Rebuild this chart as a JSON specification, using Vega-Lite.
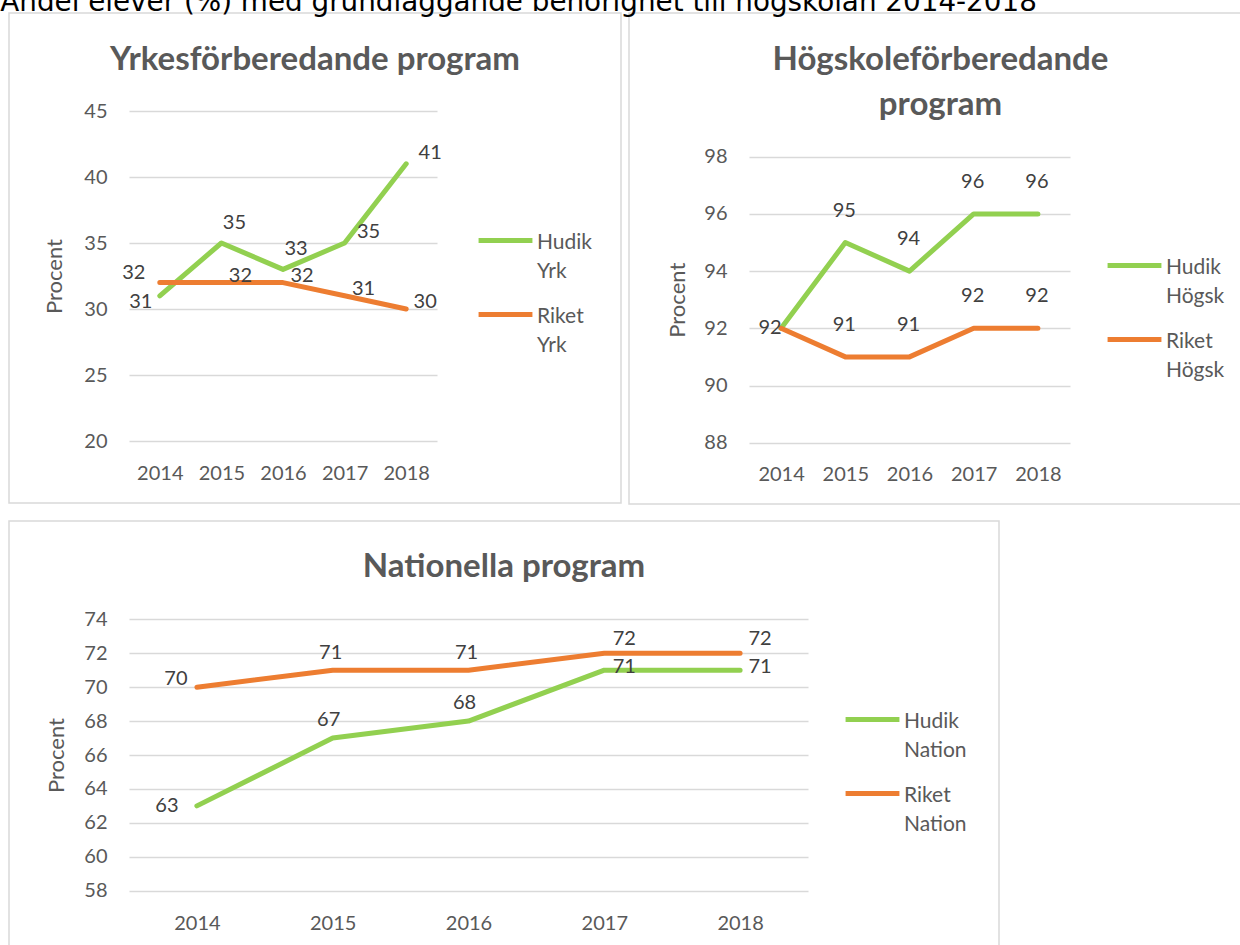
{
  "$schema": "https://vega.github.io/schema/vega-lite/v6.json",
  "background": "white",
  "padding": {"top": -11, "left": 0, "right": 0, "bottom": 0},
  "title": {"text": "Andel elever (%) med grundläggande behörighet till högskolan 2014-2018", "anchor": "start", "frame": "bounds", "font": "DejaVu Sans", "fontSize": 27.8, "fontWeight": "normal", "color": "#000000", "offset": -33, "dx": -8, "baseline": "bottom"},
  "config": {
    "font": "Lato",
    "view": {"stroke": "#d9d9d9", "strokeWidth": 1.5},
    "axis": {"domain": false, "ticks": false, "tickSize": 0, "labelFont": "Lato", "labelFontSize": 20, "labelColor": "#595959", "titleFont": "Lato", "titleFontSize": 22, "titleFontWeight": "normal", "titleColor": "#595959", "gridColor": "#d9d9d9", "gridWidth": 1.5, "labelPadding": 0},
    "legend": {"orient": "none", "title": null, "symbolType": "stroke", "symbolSize": 2900, "symbolStrokeWidth": 5, "labelFont": "Lato", "labelFontSize": 21, "labelColor": "#595959", "labelOffset": 2, "labelBaseline": "alphabetic", "rowPadding": 3, "labelLimit": 300, "padding": 0},
    "style": {"guide-label": {"lineHeight": 29}},
    "title": {"font": "Lato", "fontSize": 33, "fontWeight": "bold", "color": "#595959", "anchor": "middle", "frame": "group", "baseline": "bottom", "lineHeight": 45}
  },
  "resolve": {"scale": {"color": "independent"}, "legend": {"color": "independent"}},
  "spacing": 15,
  "vconcat": [
    {
      "spacing": 6,
      "resolve": {"scale": {"color": "independent"}, "legend": {"color": "independent"}},
      "hconcat": [
        {
          "width": 612, "height": 490,
          "title": {"text": "Yrkesförberedande program", "offset": -64},
          "data": {"values": [
            {"year": 2014, "series": "Hudik Yrk", "value": 31},
            {"year": 2015, "series": "Hudik Yrk", "value": 35},
            {"year": 2016, "series": "Hudik Yrk", "value": 33},
            {"year": 2017, "series": "Hudik Yrk", "value": 35},
            {"year": 2018, "series": "Hudik Yrk", "value": 41},
            {"year": 2014, "series": "Riket Yrk", "value": 32},
            {"year": 2015, "series": "Riket Yrk", "value": 32},
            {"year": 2016, "series": "Riket Yrk", "value": 32},
            {"year": 2017, "series": "Riket Yrk", "value": 31},
            {"year": 2018, "series": "Riket Yrk", "value": 30}
          ]},
          "encoding": {
            "x": {"field": "year", "type": "ordinal", "scale": {"type": "point", "range": [120, 428], "padding": 0.5}, "axis": {"title": null, "offset": -40, "labelAngle": 0, "grid": false}},
            "y": {"field": "value", "type": "quantitative", "scale": {"domain": [20, 45], "range": [428, 98], "nice": false, "zero": false}, "axis": {"values": [20, 25, 30, 35, 40, 45], "title": "Procent", "titlePadding": 17, "offset": -98, "grid": true}}
          },
          "layer": [
            {"mark": {"type": "line", "strokeWidth": 5, "strokeCap": "round", "strokeJoin": "round"},
             "encoding": {"color": {"field": "series", "type": "nominal", "scale": {"domain": ["Hudik Yrk", "Riket Yrk"], "range": ["#92d050", "#ed7d31"]},
               "legend": {"legendX": 467, "legendY": 198, "labelExpr": "split(datum.label, ' ')", "encoding": {"labels": {"dy": {"value": 8}}}}}}},
            {"transform": [{"filter": "datum.series == 'Hudik Yrk' && datum.year == 2014"}], "mark": {"type": "text", "fontSize": 20, "color": "#404040", "baseline": "middle", "dx": -19, "dy": 6}, "encoding": {"text": {"field": "value"}}},
            {"transform": [{"filter": "datum.series == 'Riket Yrk' && datum.year == 2014"}], "mark": {"type": "text", "fontSize": 20, "color": "#404040", "baseline": "middle", "dx": -26, "dy": -10}, "encoding": {"text": {"field": "value"}}},
            {"transform": [{"filter": "datum.series == 'Hudik Yrk' && (datum.year == 2015 || datum.year == 2016)"}], "mark": {"type": "text", "fontSize": 20, "color": "#404040", "baseline": "middle", "dx": 13, "dy": -20}, "encoding": {"text": {"field": "value"}}},
            {"transform": [{"filter": "datum.series == 'Hudik Yrk' && datum.year >= 2017"}], "mark": {"type": "text", "fontSize": 20, "color": "#404040", "baseline": "middle", "dx": 24, "dy": -11}, "encoding": {"text": {"field": "value"}}},
            {"transform": [{"filter": "datum.series == 'Riket Yrk' && datum.year >= 2015"}], "mark": {"type": "text", "fontSize": 20, "color": "#404040", "baseline": "middle", "dx": 19, "dy": -7}, "encoding": {"text": {"field": "value"}}}
          ]
        },
        {
          "width": 623, "height": 491,
          "title": {"text": ["Högskoleförberedande", "program"], "offset": -109},
          "data": {"values": [
            {"year": 2014, "series": "Hudik Högsk", "value": 92},
            {"year": 2015, "series": "Hudik Högsk", "value": 95},
            {"year": 2016, "series": "Hudik Högsk", "value": 94},
            {"year": 2017, "series": "Hudik Högsk", "value": 96},
            {"year": 2018, "series": "Hudik Högsk", "value": 96},
            {"year": 2014, "series": "Riket Högsk", "value": 92},
            {"year": 2015, "series": "Riket Högsk", "value": 91},
            {"year": 2016, "series": "Riket Högsk", "value": 91},
            {"year": 2017, "series": "Riket Högsk", "value": 92},
            {"year": 2018, "series": "Riket Högsk", "value": 92}
          ]},
          "encoding": {
            "x": {"field": "year", "type": "ordinal", "scale": {"type": "point", "range": [120, 441], "padding": 0.5}, "axis": {"title": null, "offset": -40, "labelAngle": 0, "grid": false}},
            "y": {"field": "value", "type": "quantitative", "scale": {"domain": [88, 98], "range": [429.7, 143.7], "nice": false, "zero": false}, "axis": {"values": [88, 90, 92, 94, 96, 98], "title": "Procent", "titlePadding": 14, "offset": -98, "grid": true}}
          },
          "layer": [
            {"mark": {"type": "line", "strokeWidth": 5, "strokeCap": "round", "strokeJoin": "round"},
             "encoding": {"color": {"field": "series", "type": "nominal", "scale": {"domain": ["Hudik Högsk", "Riket Högsk"], "range": ["#92d050", "#ed7d31"]},
               "legend": {"legendX": 476, "legendY": 223, "labelExpr": "split(datum.label, ' ')", "encoding": {"labels": {"dy": {"value": 8}}}}}}},
            {"transform": [{"filter": "datum.series == 'Hudik Högsk' && datum.year == 2014"}], "mark": {"type": "text", "fontSize": 20, "color": "#404040", "baseline": "middle", "dx": -11, "dy": 0}, "encoding": {"text": {"field": "value"}}},
            {"transform": [{"filter": "datum.year >= 2015"}], "mark": {"type": "text", "fontSize": 20, "color": "#404040", "baseline": "middle", "dx": -1, "dy": -32}, "encoding": {"text": {"field": "value"}}}
          ]
        }
      ]
    },
    {
      "width": 990, "height": 440,
      "title": {"text": "Nationella program", "offset": -63},
      "data": {"values": [
        {"year": 2014, "series": "Hudik Nation", "value": 63},
        {"year": 2015, "series": "Hudik Nation", "value": 67},
        {"year": 2016, "series": "Hudik Nation", "value": 68},
        {"year": 2017, "series": "Hudik Nation", "value": 71},
        {"year": 2018, "series": "Hudik Nation", "value": 71},
        {"year": 2014, "series": "Riket Nation", "value": 70},
        {"year": 2015, "series": "Riket Nation", "value": 71},
        {"year": 2016, "series": "Riket Nation", "value": 71},
        {"year": 2017, "series": "Riket Nation", "value": 72},
        {"year": 2018, "series": "Riket Nation", "value": 72}
      ]},
      "encoding": {
        "x": {"field": "year", "type": "ordinal", "scale": {"type": "point", "range": [120, 799], "padding": 0.5}, "axis": {"title": null, "offset": -48, "labelAngle": 0, "grid": false}},
        "y": {"field": "value", "type": "quantitative", "scale": {"domain": [58, 74], "range": [369.7, 98.3], "nice": false, "zero": false}, "axis": {"values": [58, 60, 62, 64, 66, 68, 70, 72, 74], "title": "Procent", "titlePadding": 15, "offset": -98, "grid": true}}
      },
      "layer": [
        {"mark": {"type": "line", "strokeWidth": 5, "strokeCap": "round", "strokeJoin": "round"},
         "encoding": {"color": {"field": "series", "type": "nominal", "scale": {"domain": ["Hudik Nation", "Riket Nation"], "range": ["#92d050", "#ed7d31"]},
           "legend": {"legendX": 834, "legendY": 169, "labelExpr": "split(datum.label, ' ')", "encoding": {"labels": {"dy": {"value": 8}}}}}}},
        {"transform": [{"filter": "datum.series == 'Hudik Nation' && datum.year == 2014"}], "mark": {"type": "text", "fontSize": 20, "color": "#404040", "baseline": "middle", "dx": -30, "dy": 0}, "encoding": {"text": {"field": "value"}}},
        {"transform": [{"filter": "datum.series == 'Hudik Nation' && (datum.year == 2015 || datum.year == 2016)"}], "mark": {"type": "text", "fontSize": 20, "color": "#404040", "baseline": "middle", "dx": -4, "dy": -18}, "encoding": {"text": {"field": "value"}}},
        {"transform": [{"filter": "datum.series == 'Hudik Nation' && datum.year >= 2017"}], "mark": {"type": "text", "fontSize": 20, "color": "#404040", "baseline": "middle", "dx": 20, "dy": -3}, "encoding": {"text": {"field": "value"}}},
        {"transform": [{"filter": "datum.series == 'Riket Nation' && datum.year == 2014"}], "mark": {"type": "text", "fontSize": 20, "color": "#404040", "baseline": "middle", "dx": -21, "dy": -8}, "encoding": {"text": {"field": "value"}}},
        {"transform": [{"filter": "datum.series == 'Riket Nation' && (datum.year == 2015 || datum.year == 2016)"}], "mark": {"type": "text", "fontSize": 20, "color": "#404040", "baseline": "middle", "dx": -2, "dy": -17}, "encoding": {"text": {"field": "value"}}},
        {"transform": [{"filter": "datum.series == 'Riket Nation' && datum.year >= 2017"}], "mark": {"type": "text", "fontSize": 20, "color": "#404040", "baseline": "middle", "dx": 20, "dy": -14}, "encoding": {"text": {"field": "value"}}}
      ]
    }
  ]
}
